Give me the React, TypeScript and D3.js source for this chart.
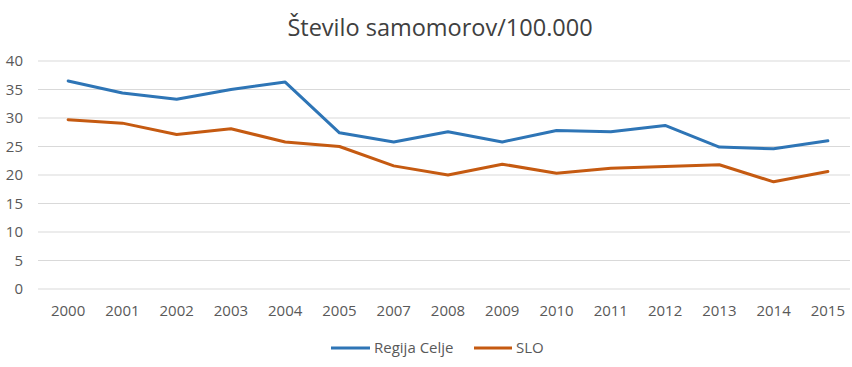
import React from "react";
import * as d3 from "d3";

const categories = ["2000","2001","2002","2003","2004","2005","2007","2008","2009","2010","2011","2012","2013","2014","2015"];
const celje = [36.5,34.4,33.3,35.0,36.3,27.4,25.8,27.6,25.8,27.8,27.6,28.7,24.9,24.6,26.0];
const slo = [29.7,29.1,27.1,28.1,25.8,25.0,21.6,20.0,21.9,20.3,21.2,21.5,21.8,18.8,20.6];
const yTicks = [0,5,10,15,20,25,30,35,40];
const seriesNames = ["Regija Celje", "SLO"];
const colors = ["#2E75B6", "#C55A11"];

export default function App() {
  const W = 852, H = 367;
  const left = 41, right = 855, top = 61, bottom = 289;
  const x = d3.scalePoint<string>().domain(categories).range([left, right]).padding(0.5);
  const y = d3.scaleLinear().domain([0, 40]).range([bottom, top]);
  const line = d3.line<number>().x((_, i) => x(categories[i])!).y(d => y(d));
  const font = "'Open Sans', 'DejaVu Sans', sans-serif";
  const series = [celje, slo];
  return (
    <svg width={W} height={H} style={{ position: "absolute", left: 0, top: 0, background: "#fff" }} fontFamily={font}>
      <rect width={W} height={H} fill="#fff" />
      <text x={440} y={36} textAnchor="middle" fontSize={23.5} fill="#404040">Število samomorov/100.000</text>
      {yTicks.map(t => (
        <g key={t}>
          <line x1={38} x2={850} y1={y(t)} y2={y(t)} stroke="#d9d9d9" strokeWidth={1.2} />
          <text x={23} y={y(t)} dy="0.35em" textAnchor="end" fontSize={15} fill="#595959">{t}</text>
        </g>
      ))}
      {categories.map(c => (
        <text key={c} x={x(c)!} y={316} textAnchor="middle" fontSize={15} fill="#595959">{c}</text>
      ))}
      {series.map((s, i) => (
        <path key={i} d={line(s)!} fill="none" stroke={colors[i]} strokeWidth={3} strokeLinejoin="round" strokeLinecap="round" />
      ))}
      <g>
        <line x1={331} x2={370} y1={348} y2={348} stroke={colors[0]} strokeWidth={3} />
        <text x={374} y={348} dy="0.35em" fontSize={15} fill="#595959">{seriesNames[0]}</text>
        <line x1={474} x2={512} y1={348} y2={348} stroke={colors[1]} strokeWidth={3} />
        <text x={516} y={348} dy="0.35em" fontSize={15} fill="#595959">{seriesNames[1]}</text>
      </g>
    </svg>
  );
}
